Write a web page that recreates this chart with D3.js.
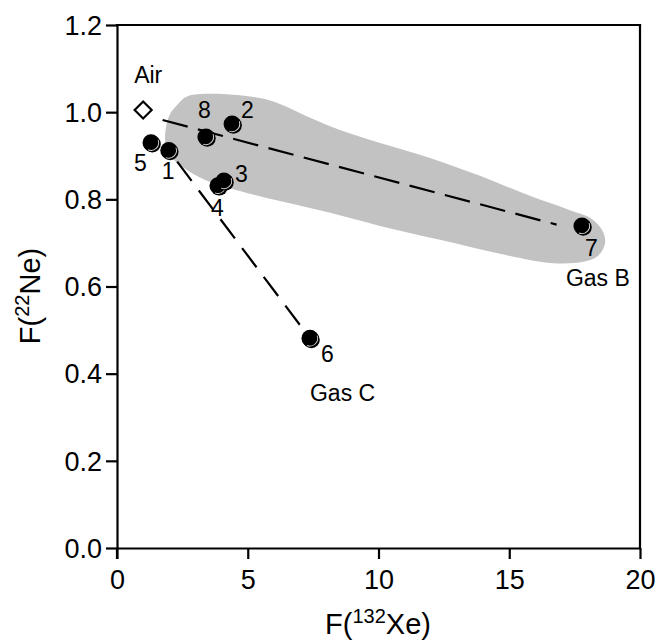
<!DOCTYPE html>
<html><head><meta charset="utf-8">
<script src="https://cdn.jsdelivr.net/npm/d3@7"></script>
<style>
html,body{margin:0;padding:0;background:#fff;}
text{font-family:"Liberation Sans",Arial,Helvetica,sans-serif;fill:#000;}
</style></head>
<body><svg id="chart" width="660" height="643"></svg>
<script>
// ---- data ----
const sampleIds = ["1","2","3","4","5","6","7","8"];
const xeValues  = [1.98, 4.40, 4.09, 3.86, 1.30, 7.38, 17.78, 3.40];
const neValues  = [0.912, 0.973, 0.842, 0.831, 0.930, 0.481, 0.739, 0.943];
const airPoint  = {x: 1.0, y: 1.005};
const xTicks = [0, 5, 10, 15, 20];
const yTicks = [0, 0.2, 0.4, 0.6, 0.8, 1.0, 1.2];
// tie line toward Gas B (start / end)
const lineBx = [1.744, 16.81];
const lineBy = [0.982, 0.742];
// shaded field outline (x = F(132Xe), y = F(22Ne))
const fieldX = [2.26,2.64,3.37,4.70,5.66,6.42,7.38,8.53,10.06,11.97,13.88,15.79,17.32,18.16,18.59,18.66,18.39,17.78,16.56,14.65,12.35,10.06,8.15,6.23,4.70,3.56,2.79,2.18,1.87,1.87,2.03];
const fieldY = [1.014,1.035,1.042,1.039,1.030,1.014,0.987,0.959,0.929,0.895,0.854,0.808,0.775,0.755,0.725,0.698,0.670,0.656,0.654,0.675,0.707,0.739,0.769,0.796,0.819,0.840,0.863,0.890,0.922,0.964,0.996];

// ---- layout ----
const svg = d3.select("#chart");
const x = d3.scaleLinear().domain([0, 20]).range([117, 640]);
const y = d3.scaleLinear().domain([0, 1.2]).range([548, 25]);
const FONT = 23;

// shaded field
const fieldPts = fieldX.map((v, i) => [x(v), y(fieldY[i])]);
svg.append("path")
  .attr("d", d3.line().curve(d3.curveCatmullRomClosed.alpha(0.5))(fieldPts))
  .attr("fill", "#c2c2c2").attr("stroke", "none");

// dashed line toward Gas B
svg.append("line")
  .attr("x1", x(lineBx[0])).attr("y1", y(lineBy[0]))
  .attr("x2", x(lineBx[1])).attr("y2", y(lineBy[1]))
  .attr("stroke", "#000").attr("stroke-width", 2.2)
  .attr("stroke-dasharray", "25.9,10.6");

// dashed line from sample 1 to sample 6 (Gas C)
const i1 = sampleIds.indexOf("1"), i6 = sampleIds.indexOf("6");
svg.append("line")
  .attr("x1", x(xeValues[i1])).attr("y1", y(neValues[i1]))
  .attr("x2", x(xeValues[i6])).attr("y2", y(neValues[i6]))
  .attr("stroke", "#000").attr("stroke-width", 2.2)
  .attr("stroke-dasharray", "24,12").attr("stroke-dashoffset", 22);

// axes
const gx = svg.append("g").attr("transform", `translate(0,${y(0)})`)
  .call(d3.axisBottom(x).tickValues(xTicks).tickSize(11).tickSizeOuter(0).tickPadding(8).tickFormat(d3.format("d")));
const gy = svg.append("g").attr("transform", `translate(${x(0)},0)`)
  .call(d3.axisLeft(y).tickValues(yTicks).tickSize(11).tickSizeOuter(0).tickPadding(4).tickFormat(d3.format(".1f")));
[gx, gy].forEach(g => {
  g.selectAll("path.domain").attr("stroke", "#000").attr("stroke-width", 2.2);
  g.selectAll(".tick line").attr("stroke", "#000").attr("stroke-width", 2.2);
  g.selectAll(".tick text").attr("font-size", 27)
    .attr("font-family", "Liberation Sans, Arial, sans-serif").attr("fill", "#000");
});
gx.selectAll(".tick text").attr("dy", "0.82em");
gy.selectAll(".tick text").attr("dy", "0.34em");
// y axis extends below x axis at origin
svg.append("line").attr("x1", x(0)).attr("x2", x(0)).attr("y1", y(0)).attr("y2", y(0) + 11)
  .attr("stroke", "#000").attr("stroke-width", 2.2);
// top and right frame
svg.append("line").attr("x1", x(0)).attr("x2", x(20)).attr("y1", y(1.2)).attr("y2", y(1.2))
  .attr("stroke", "#000").attr("stroke-width", 2.2).attr("stroke-linecap", "square");
svg.append("line").attr("x1", x(20)).attr("x2", x(20)).attr("y1", y(1.2)).attr("y2", y(0))
  .attr("stroke", "#000").attr("stroke-width", 2.2).attr("stroke-linecap", "square");

// sample points
const R = 8.5;
const arc = d3.arc().innerRadius(R - 1.3).outerRadius(R - 0.4)
  .startAngle(Math.PI * 0.38).endAngle(Math.PI * 1.12);
const order = ["7","6","2","8","5","1","4","3"];
order.forEach(id => {
  const i = sampleIds.indexOf(id);
  const cx = x(xeValues[i]), cy = y(neValues[i]);
  const g = svg.append("g").attr("transform", `translate(${cx},${cy})`);
  g.append("circle").attr("cx", 1.3).attr("cy", 1.3).attr("r", R).attr("fill", "#000");
  g.append("circle").attr("r", R).attr("fill", "#000");
  g.append("path").attr("d", arc()).attr("fill", "#fff").attr("opacity", 0.85);
});

// air diamond
const D = 8.5;
svg.append("path")
  .attr("transform", `translate(${x(airPoint.x)},${y(airPoint.y)})`)
  .attr("d", `M0,${-D}L${D},0L0,${D}L${-D},0Z`)
  .attr("fill", "#fff").attr("stroke", "#000").attr("stroke-width", 2.2);

// point labels (offsets in px relative to the point)
const labelDx = {"1": -7, "2": 9, "3": 11, "4": -7, "5": -17, "6": 11, "7": 3, "8": -8};
const labelDy = {"1": 28, "2": -6, "3": 1, "4": 30, "5": 28, "6": 24, "7": 30, "8": -19};
sampleIds.forEach((id, i) => {
  svg.append("text").attr("x", x(xeValues[i]) + labelDx[id]).attr("y", y(neValues[i]) + labelDy[id])
    .attr("font-size", FONT).text(id);
});
svg.append("text").attr("x", x(airPoint.x) - 9).attr("y", y(airPoint.y) - 27)
  .attr("font-size", FONT).text("Air");
const i7 = sampleIds.indexOf("7");
svg.append("text").attr("x", x(xeValues[i7]) - 16).attr("y", y(neValues[i7]) + 60)
  .attr("font-size", FONT).text("Gas B");
svg.append("text").attr("x", x(xeValues[i6])).attr("y", y(neValues[i6]) + 63)
  .attr("font-size", FONT).text("Gas C");

// axis titles
const xt = svg.append("text").attr("x", 378).attr("y", 634).attr("text-anchor", "middle").attr("font-size", 29);
xt.append("tspan").text("F(");
xt.append("tspan").attr("font-size", 20).attr("dy", -11).text("132");
xt.append("tspan").attr("dy", 11).text("Xe)");
const yt = svg.append("text").attr("transform", "translate(40,296) rotate(-90)").attr("text-anchor", "middle").attr("font-size", 29);
yt.append("tspan").text("F(");
yt.append("tspan").attr("font-size", 20).attr("dy", -11).text("22");
yt.append("tspan").attr("dy", 11).text("Ne)");
</script>
</body></html>
